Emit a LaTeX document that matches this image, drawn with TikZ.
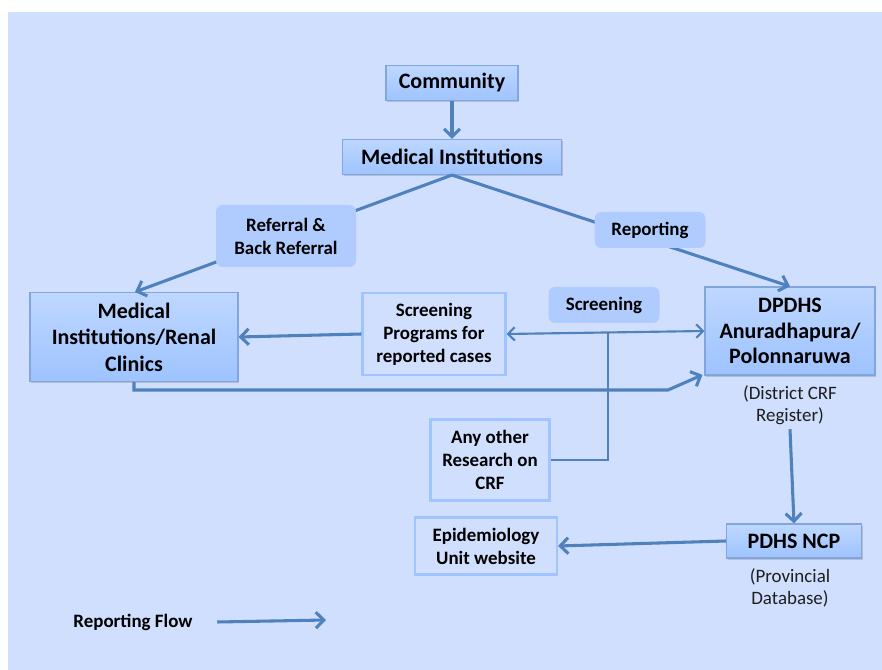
\documentclass[tikz,border=0pt]{standalone}
\usepackage{fontspec}
\setmainfont{Carlito}
\usetikzlibrary{arrows.meta, positioning, calc, shapes, shadows}
\definecolor{bgblue}{RGB}{208,223,254}
\definecolor{boxtop}{RGB}{190,215,255}
\definecolor{boxbot}{RGB}{158,195,255}
\definecolor{boxline}{RGB}{130,165,220}
\definecolor{flow}{RGB}{79,129,189}
\definecolor{tagfill}{RGB}{176,204,255}
\definecolor{frameline}{RGB}{160,196,255}
\definecolor{note}{RGB}{30,30,30}
\newcommand{\bigtext}{\bfseries\fontsize{16.5}{19}\selectfont}
\newcommand{\smalltext}{\bfseries\fontsize{14.2}{17.2}\selectfont}

\begin{document}
\begin{tikzpicture}[x=0.75pt, y=-0.75pt,
  wh/.style 2 args={minimum width=#1*0.75pt, minimum height=#2*0.75pt},
  mainbox/.style={draw=boxline, line width=0.8pt, top color=boxtop, bottom color=boxbot,
    align=center, inner sep=0pt, font=\bigtext,
    drop shadow={shadow xshift=0.8pt, shadow yshift=-1.2pt, opacity=0.35}},
  framebox/.style={draw=frameline, line width=1.6pt, align=center, inner sep=0pt, font=\smalltext},
  tag/.style={fill=tagfill, rounded corners=5pt, align=center, inner sep=0pt, font=\smalltext},
  notetext/.style={align=center, text=note, font=\fontsize{14.2}{16.5}\selectfont},
  flowline/.style={flow, line width=2.3pt},
  fineline/.style={flow, line width=1.6pt},
  flowarrow/.style={flowline, -{Straight Barb[length=6pt, width=12pt]}}]
  \useasboundingbox (0,0) rectangle (882,670);
  \fill[bgblue] (8,12) rectangle (882,670);

  % boxes
  \node[mainbox, wh={132}{35}] (community) at (452,83) {Community};
  \node[mainbox, wh={219}{35}] (medinst) at (452,157) {Medical Institutions};
  \node[mainbox, wh={208}{89}, text width=200*0.75pt, font=\bigtext\linespread{1.05}\selectfont] (renal) at (134,337)
    {Medical\\Institutions/Renal\\Clinics};
  \node[mainbox, wh={170}{88}, text width=165*0.75pt] (dpdhs) at (790,331)
    {DPDHS\\Anuradhapura/\\Polonnaruwa};
  \node[mainbox, wh={135}{34}] (pdhs) at (794,541) {PDHS NCP};
  \node[framebox, wh={143}{82}] (screenprog) at (434,334) {Screening\\Programs for\\reported cases};
  \node[framebox, wh={119}{81}] (research) at (490,460) {Any other\\Research on\\CRF};
  \node[framebox, wh={142}{57}] (epiunit) at (486,546) {Epidemiology\\Unit website};
  \node[notetext] (crfnote) at (790,405) {(District CRF\\Register)};
  \node[notetext] (provnote) at (790,588) {(Provincial\\Database)};

  % connectors
  \draw[flowarrow] (community) -- (medinst);
  \draw[flowarrow] (medinst.south) -- ([xshift=0.75pt]renal.north);
  \draw[flowarrow] (medinst.south) -- (dpdhs.north);
  \draw[flowarrow] (screenprog.west) -- (renal.east);
  \draw[fineline, {Straight Barb[length=5pt, width=10pt]}-{Straight Barb[length=5pt, width=10pt]}]
    (screenprog.east) -- (dpdhs.west);
  \coordinate (tap) at ($(screenprog.east)!0.513!(dpdhs.west)$);
  \draw[fineline] (research.east) -| (tap);
  \coordinate (bend) at (668,390);
  \draw[flowarrow] (renal.south) |- (bend) -- ([shift={(-1.5pt,0.5pt)}]dpdhs.south west);
  \draw[flowarrow] (crfnote.south) -- (pdhs.north);
  \draw[flowarrow] (pdhs.west) -- (epiunit.east);

  % labels on the lines
  \node[tag, wh={140}{62}] (referral) at (286,236) {Referral \&\\Back Referral};
  \node[tag, wh={111}{36}] (reporting) at (650,230) {Reporting};
  \node[tag, wh={111}{36}] (screening) at (604,305) {Screening};

  % legend
  \node[font=\smalltext] (legend) at (133,622) {Reporting Flow};
  \coordinate (legendend) at (326,620);
  \draw[flowarrow] ([xshift=15pt]legend.east) -- (legendend);
\end{tikzpicture}
\end{document}
